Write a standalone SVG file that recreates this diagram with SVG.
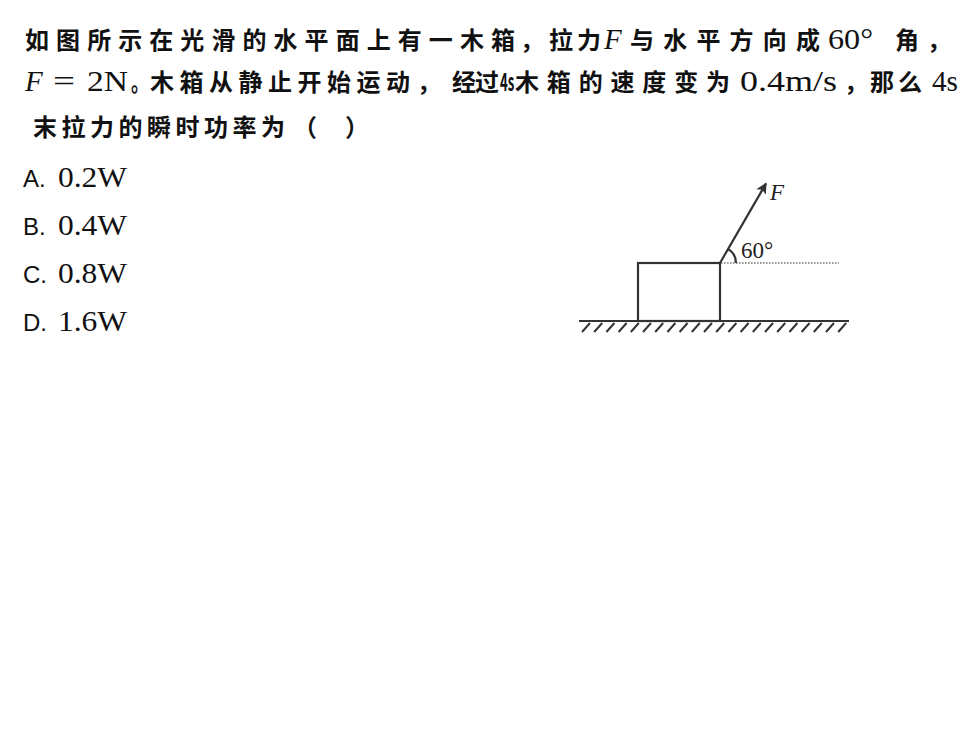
<svg xmlns="http://www.w3.org/2000/svg" width="980" height="732" viewBox="0 0 980 732">
<style>
.cjk{font-family:"Noto Sans CJK SC","Noto Sans CJK JP",sans-serif;font-size:24px;font-weight:bold;fill:#111}
.m{font-family:"Liberation Serif","DejaVu Serif",serif;font-size:29px;fill:#111}
.mi{font-family:"Liberation Serif","DejaVu Serif",serif;font-size:29px;font-style:italic;fill:#111}
.opt{font-family:"Liberation Sans","DejaVu Sans",sans-serif;font-size:24px;fill:#111}
.ln{stroke:#333;stroke-width:2.2;fill:none}
.lbl{font-family:"Liberation Serif","DejaVu Serif",serif;font-size:23px;fill:#222}
</style>
<defs>
<marker id="ah" viewBox="0 0 10 10" refX="9" refY="5" markerWidth="6" markerHeight="5" orient="auto" markerUnits="strokeWidth">
<path d="M0,0 L10,5 L0,10 L2.5,5 z" fill="#333"/>
</marker>
</defs>
<rect width="980" height="732" fill="#fff"/>
<g id="question">
<text class="cjk" x="25" y="49" textLength="490" lengthAdjust="spacing">如图所示在光滑的水平面上有一木箱</text>
<text class="cjk" x="520" y="49">，</text>
<text class="cjk" x="549" y="49" textLength="52" lengthAdjust="spacing">拉力</text>
<text class="mi" x="604" y="49">F</text>
<text class="cjk" x="630" y="49" textLength="190" lengthAdjust="spacing">与水平方向成</text>
<text class="m" x="828" y="49" textLength="45" lengthAdjust="spacingAndGlyphs">60°</text>
<text class="cjk" x="895" y="49">角</text>
<text class="cjk" x="927" y="49">，</text>

<text class="mi" x="25" y="91">F</text>
<text class="m" x="53" y="91" textLength="22" lengthAdjust="spacingAndGlyphs">=</text>
<text class="m" x="87" y="91" textLength="41" lengthAdjust="spacingAndGlyphs">2N</text>
<text class="cjk" transform="translate(131,91) scale(0.75,1)">。</text>
<text class="cjk" x="150" y="91" textLength="260" lengthAdjust="spacing">木箱从静止开始运动</text>
<text class="cjk" x="417" y="91">，</text>
<text class="cjk" x="452" y="91" textLength="47" lengthAdjust="spacing">经过</text>
<text class="cjk" transform="translate(500,91) scale(0.55,1)">4s</text>
<text class="cjk" x="515" y="91" textLength="215" lengthAdjust="spacing">木箱的速度变为</text>
<text class="m" x="740" y="91" textLength="97" lengthAdjust="spacingAndGlyphs">0.4m/s</text>
<text class="cjk" x="844" y="91">，</text>
<text class="cjk" x="870" y="91" textLength="52" lengthAdjust="spacing">那么</text>
<text class="m" x="932" y="91" textLength="26" lengthAdjust="spacingAndGlyphs">4s</text>

<text class="cjk" x="33" y="136" textLength="252" lengthAdjust="spacing">末拉力的瞬时功率为</text>
<text class="cjk" x="293" y="136">（</text>
<text class="cjk" x="345" y="136">）</text>
</g>
<g id="options">
<text x="23" y="187"><tspan class="opt">A.</tspan><tspan class="m" x="58" textLength="69" lengthAdjust="spacingAndGlyphs">0.2W</tspan></text>
<text x="23" y="235"><tspan class="opt">B.</tspan><tspan class="m" x="58" textLength="69" lengthAdjust="spacingAndGlyphs">0.4W</tspan></text>
<text x="23" y="283"><tspan class="opt">C.</tspan><tspan class="m" x="58" textLength="69" lengthAdjust="spacingAndGlyphs">0.8W</tspan></text>
<text x="23" y="331"><tspan class="opt">D.</tspan><tspan class="m" x="58" textLength="69" lengthAdjust="spacingAndGlyphs">1.6W</tspan></text>
</g>
<g id="figure">
<g id="ground">
<line class="ln" x1="579" y1="321" x2="849" y2="321"/>
<path stroke="#333" stroke-width="2" fill="none" d="M582,332l8,-9M594.2,332l8,-9M606.4,332l8,-9M618.6,332l8,-9M630.8,332l8,-9M643,332l8,-9M655.2,332l8,-9M667.4,332l8,-9M679.6,332l8,-9M691.8,332l8,-9M704,332l8,-9M716.2,332l8,-9M728.4,332l8,-9M740.6,332l8,-9M752.8,332l8,-9M765,332l8,-9M777.2,332l8,-9M789.4,332l8,-9M801.6,332l8,-9M813.8,332l8,-9M826,332l8,-9M838.2,332l8,-9"/>
</g>
<g id="box">
<rect class="ln" x="638" y="263" width="82" height="58"/>
</g>
<g id="connectors">
<line x1="721" y1="263" x2="839" y2="263" stroke="#999" stroke-width="2" stroke-dasharray="1.6,1.4"/>
<line class="ln" x1="720" y1="263" x2="766" y2="183.5" marker-end="url(#ah)"/>
<path class="ln" stroke-width="1.8" d="M736,263 A16,16 0 0 0 728,249.1"/>
</g>
<g id="labels">
<text class="lbl" x="770" y="200" font-size="25" font-style="italic">F</text>
<text class="lbl" x="741" y="258">60°</text>
</g>
</g>
</svg>
